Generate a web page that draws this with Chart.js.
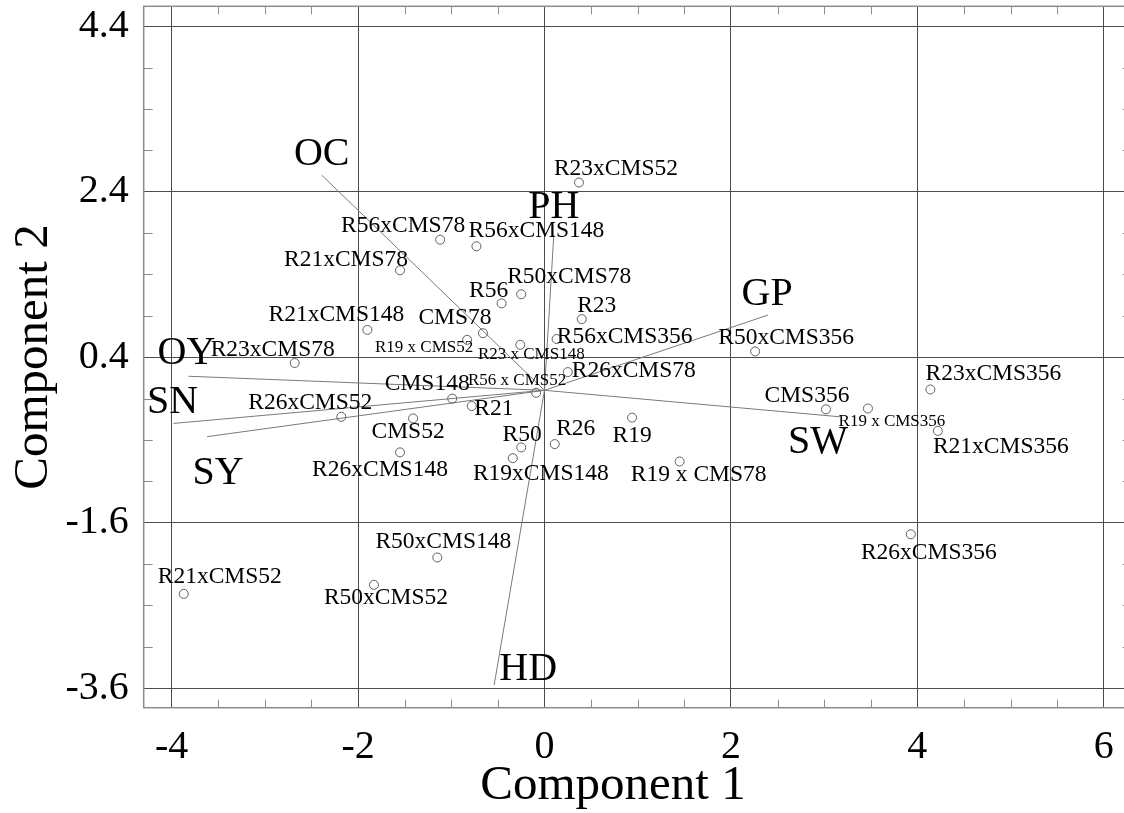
<!DOCTYPE html>
<html><head><meta charset="utf-8">
<script src="https://cdn.jsdelivr.net/npm/chart.js@4.4.1/dist/chart.umd.min.js"></script>
<style>
html,body{margin:0;padding:0;background:#fff;overflow:hidden;width:1124px;height:813px}
#wrap{width:1124px;height:813px;overflow:hidden;position:relative;background:#fff}
canvas{position:absolute;left:0;top:0}
</style></head><body><div id="wrap"><canvas id="c" width="1140" height="813"></canvas></div>
<script>
// ---- data ----
const genotypes = ['R56xCMS78','R56xCMS148','R21xCMS78','R56','R50xCMS78','R21xCMS148','CMS78','R19 x CMS52','R23 x CMS148','R23xCMS78',
  'R23xCMS52','R23','R56xCMS356','R50xCMS356','R26xCMS78','R56 x CMS52','CMS148','R26xCMS52','R21','CMS52',
  'R26xCMS148','R50','R19xCMS148','R26','R19','R19 x CMS78','CMS356','R19 x CMS356','R23xCMS356','R21xCMS356',
  'R50xCMS148','R21xCMS52','R50xCMS52','R26xCMS356'];
const comp1 = [-1.12,-0.73,-1.55,-0.46,-0.25,-1.90,-0.66,-0.83,-0.26,-2.68,
  0.37,0.40,0.13,2.26,0.25,-0.09,-0.99,-2.18,-0.78,-1.41,
  -1.55,-0.25,-0.34,0.11,0.94,1.45,3.02,3.47,4.14,4.22,
  -1.15,-3.87,-1.83,3.93];
const comp2 = [1.82,1.74,1.45,1.05,1.16,0.73,0.69,0.61,0.55,0.33,
  2.51,0.86,0.62,0.47,0.22,-0.03,-0.10,-0.32,-0.19,-0.34,
  -0.75,-0.69,-0.82,-0.65,-0.33,-0.86,-0.23,-0.22,0.01,-0.49,
  -2.02,-2.46,-2.35,-1.74];
const traits = ['OC','PH','GP','OY','SN','SY','SW','HD'];
const load1 = [-2.39,0.10,2.40,-3.82,-3.98,-3.62,3.17,-0.54];
const load2 = [2.60,1.88,0.91,0.17,-0.40,-0.56,-0.32,-3.56];
const xTicks = [-4,-2,0,2,4,6];
const yTicks = [4.4,2.4,0.4,-1.6,-3.6];
const xTitle = 'Component 1';
const yTitle = 'Component 2';

// ---- label placement / style (px) ----
const ptLabelDx = [-37,60,-54,-13,48,-31,-28,-43,11,-22, 37,15,68,31,66,-19,-25,-31,22,-5, -20,1,28,21,0,19,-19,24,63,63, 6,36,12,18];
const ptLabelDy = [-8,-9,-4,-6,-11,-9,-9,12,14,-7, -8,-7,4,-7,5,-8,-9,-8,9,20, 24,-6,22,-9,24,20,-7,17,-9,22, -9,-11,19,25];
const ptLabelSize = genotypes.map(g => g.indexOf(' x ') >= 0 && g !== 'R19 x CMS78' ? 17 : 23.5);
const trLabelDx = [0,0,-1,-2,-1,11,-22,34];
const trLabelDy = [-10,-17,-10,-12,-10,47,36,-5];

const SERIF = '"Liberation Serif","Times New Roman",serif';

const framePlugin = {
  id: 'frame',
  afterDraw(chart) {
    const {ctx, chartArea: a, scales: {x, y}} = chart;
    ctx.save();
    ctx.strokeStyle = '#8c8c8c';
    ctx.lineWidth = 1.5;
    ctx.strokeRect(a.left, a.top, a.right - a.left, a.bottom - a.top);
    ctx.lineWidth = 1;
    ctx.beginPath();
    for (let v = -4; v <= 6.001; v += 0.5) {
      if (Math.abs(v - Math.round(v / 2) * 2) < 1e-6) continue;
      const px = Math.round(x.getPixelForValue(v)) + 0.5;
      ctx.moveTo(px, a.bottom); ctx.lineTo(px, a.bottom - 8);
      ctx.moveTo(px, a.top); ctx.lineTo(px, a.top + 8);
    }
    for (let v = -3.6; v <= 4.401; v += 0.5) {
      if (yTicks.some(t => Math.abs(t - v) < 1e-6)) continue;
      const py = Math.round(y.getPixelForValue(v)) + 0.5;
      ctx.moveTo(a.left, py); ctx.lineTo(a.left + 9, py);
      ctx.moveTo(a.right, py); ctx.lineTo(a.right - 9, py);
    }
    ctx.stroke();
    // x axis title
    ctx.fillStyle = '#000';
    ctx.font = '49px ' + SERIF;
    ctx.textAlign = 'center';
    ctx.textBaseline = 'alphabetic';
    ctx.fillText(xTitle, 613, 799);
    ctx.restore();
  }
};

const labelPlugin = {
  id: 'labels',
  afterDatasetsDraw(chart) {
    const ctx = chart.ctx;
    ctx.save();
    ctx.fillStyle = '#000';
    ctx.textAlign = 'center';
    ctx.textBaseline = 'alphabetic';
    const pm = chart.getDatasetMeta(0).data;
    genotypes.forEach((g, i) => {
      ctx.font = ptLabelSize[i] + 'px ' + SERIF;
      ctx.fillText(g, pm[i].x + ptLabelDx[i], pm[i].y + ptLabelDy[i]);
    });
    ctx.font = '40px ' + SERIF;
    traits.forEach((t, i) => {
      const el = chart.getDatasetMeta(i + 1).data[1];
      ctx.fillText(t, el.x + trLabelDx[i], el.y + trLabelDy[i]);
    });
    ctx.restore();
  }
};

const datasets = [{
  label: 'genotypes',
  data: comp1.map((v, i) => ({x: v, y: comp2[i]})),
  showLine: false,
  pointStyle: 'circle',
  pointRadius: 4.5,
  pointBorderWidth: 1,
  pointBorderColor: '#5f5f5f',
  pointBackgroundColor: 'rgba(255,255,255,0)'
}];
traits.forEach((t, i) => {
  datasets.push({
    label: t,
    data: [{x: 0, y: 0}, {x: load1[i], y: load2[i]}],
    showLine: true,
    borderColor: '#7a7a7a',
    borderWidth: 1,
    pointRadius: 0,
    fill: false
  });
});

new Chart(document.getElementById('c'), {
  type: 'scatter',
  data: {datasets},
  options: {
    responsive: false,
    devicePixelRatio: 1,
    animation: false,
    layout: {padding: {top: 6.3, right: 8.3, left: 0, bottom: 0}},
    plugins: {legend: {display: false}, tooltip: {enabled: false}},
    scales: {
      x: {
        type: 'linear', min: -4.3, max: 6.3,
        afterBuildTicks: ax => { ax.ticks = xTicks.map(v => ({value: v})); },
        afterFit: s => { s.height = 105.3; s.paddingLeft = 0; s.paddingRight = 0; },
        ticks: {font: {family: SERIF, size: 40}, color: '#000', padding: 16, autoSkip: false, maxRotation: 0,
          callback: v => String(v)},
        grid: {color: '#4d4d4d', lineWidth: 1, drawTicks: false},
        border: {display: false},
        title: {display: false}
      },
      y: {
        type: 'linear', min: -3.835, max: 4.64,
        afterBuildTicks: ax => { ax.ticks = yTicks.map(v => ({value: v})); },
        afterFit: s => { s.width = 143.7; s.paddingTop = 0; s.paddingBottom = 0; },
        ticks: {font: {family: SERIF, size: 40}, color: '#000', padding: 15, autoSkip: false,
          callback: v => Number(v).toFixed(1)},
        grid: {color: '#4d4d4d', lineWidth: 1, drawTicks: false},
        border: {display: false},
        title: {display: true, text: yTitle, color: '#000', font: {family: SERIF, size: 49}, padding: {top: 5, bottom: 0}}
      }
    }
  },
  plugins: [framePlugin, labelPlugin]
});
</script></body></html>
